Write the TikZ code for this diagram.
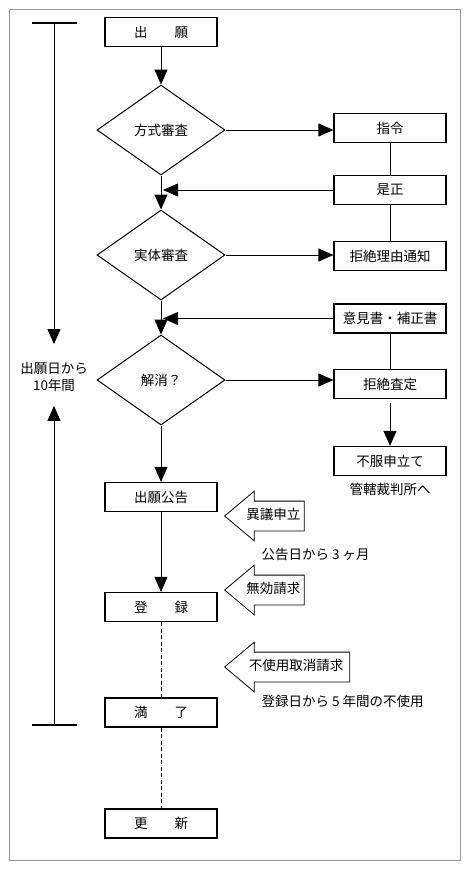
\documentclass[tikz,border=0pt]{standalone}
\usepackage{fontspec}
\setmainfont{Noto Sans CJK JP}
\usetikzlibrary{positioning,shapes.geometric,shapes.arrows,arrows.meta}
\tikzset{>={Triangle[length=15pt,width=13pt]}}

\begin{document}
\begin{tikzpicture}[x=1pt,y=-1pt,font=\fontsize{13.5}{17}\selectfont,
  box/.style={draw,line width=1.2pt,minimum width=112pt,minimum height=29pt,inner sep=0pt},
  cond/.style={draw,diamond,line width=1pt,minimum width=128pt,minimum height=90pt,inner sep=0pt},
  bigarrow/.style={draw,single arrow,shape border rotate=180,line width=.8pt,single arrow head extend=10pt,single arrow tip angle=80,inner xsep=3.5pt,inner ysep=8pt,text height=10pt,text depth=3pt,anchor=tip},
  flow/.style={->,line width=1pt}]
\useasboundingbox (0,0) rectangle (466,871);
\draw[gray!80,line width=.8pt] (9,9) rectangle (460,860);
% period of protection
\coordinate (ltop) at (54,23);
\coordinate (lbot) at (54,725);
\draw[line width=2.5pt] ([xshift=-22pt]ltop) -- ([xshift=23pt]ltop);
\draw[line width=2.5pt] ([xshift=-22pt]lbot) -- ([xshift=23pt]lbot);
\node[align=center,inner sep=0pt] (period) at (54,377) {出願日から\\10年間};
\draw[flow,shorten >=18pt] (ltop) -- (period.north);
\draw[flow,shorten >=14pt] (lbot) -- (period.south);
% main flow
\node[box] (shutsugan) at (161,32) {出　　願};
\node[cond] (hoshiki) at (161,130) {方式審査};
\node[cond] (jittai) at (161,255) {実体審査};
\node[cond] (kaisho) at (161,380) {解消？};
\node[box] (koukoku) at (161,497) {出願公告};
\node[box] (touroku) at (161,607) {登　　録};
\node[box] (mantei) at (161,712.5) {満　　了};
\node[box] (koushin) at (161,823.5) {更　　新};
\node[box] (shirei) at (390,128) {指令};
\node[box] (zesei) at (390,190) {是正};
\node[box] (riyuu) at (390,256) {拒絶理由通知};
\node[box] (ikensho) at (390,318.5) {意見書・補正書};
\node[box] (satei) at (390,384) {拒絶査定};
\node[box] (fufuku) at (390,461) {不服申立て};
\node (kankatsu) at (390,489) {管轄裁判所へ};
\draw[flow] (shutsugan) -- (hoshiki);
\draw[flow] (hoshiki) -- (jittai);
\draw[flow] (jittai) -- (kaisho);
\draw[flow] (kaisho) -- (koukoku);
\draw[flow] (koukoku) -- (touroku);
\draw[line width=1pt,dash pattern=on 4pt off 2.5pt] (touroku) -- (mantei);
\draw[line width=1pt,dash pattern=on 4pt off 2.5pt] (mantei) -- (koushin);
\draw[flow] (hoshiki.east) -- (hoshiki.east -| shirei.west);
\draw[flow] (jittai.east) -- (jittai.east -| riyuu.west);
\draw[flow] (kaisho.east) -- (kaisho.east -| satei.west);
\draw[line width=1pt] (shirei) -- (zesei);
\draw[line width=1pt] (zesei) -- (riyuu);
\draw[line width=1pt] (ikensho) -- (satei);
\draw[flow,shorten >=2pt] (zesei.west) -- (zesei.west -| hoshiki.south);
\draw[flow,shorten >=2pt] (ikensho.west) -- (ikensho.west -| kaisho.north);
\draw[flow,shorten <=4pt] (satei) -- (fufuku);
% objections
\node[bigarrow] (igi) at (224,516) {異議申立};
\node[anchor=west] (igilimit) at (258,554) {公告日から 3 ヶ月};
\node[bigarrow] (muko) at (224,590) {無効請求};
\node[bigarrow,inner xsep=6pt] (fushiyo) at (224,667) {不使用取消請求};
\node[anchor=west] (fushiyolimit) at (258,701) {登録日から 5 年間の不使用};
\end{tikzpicture}
\end{document}
